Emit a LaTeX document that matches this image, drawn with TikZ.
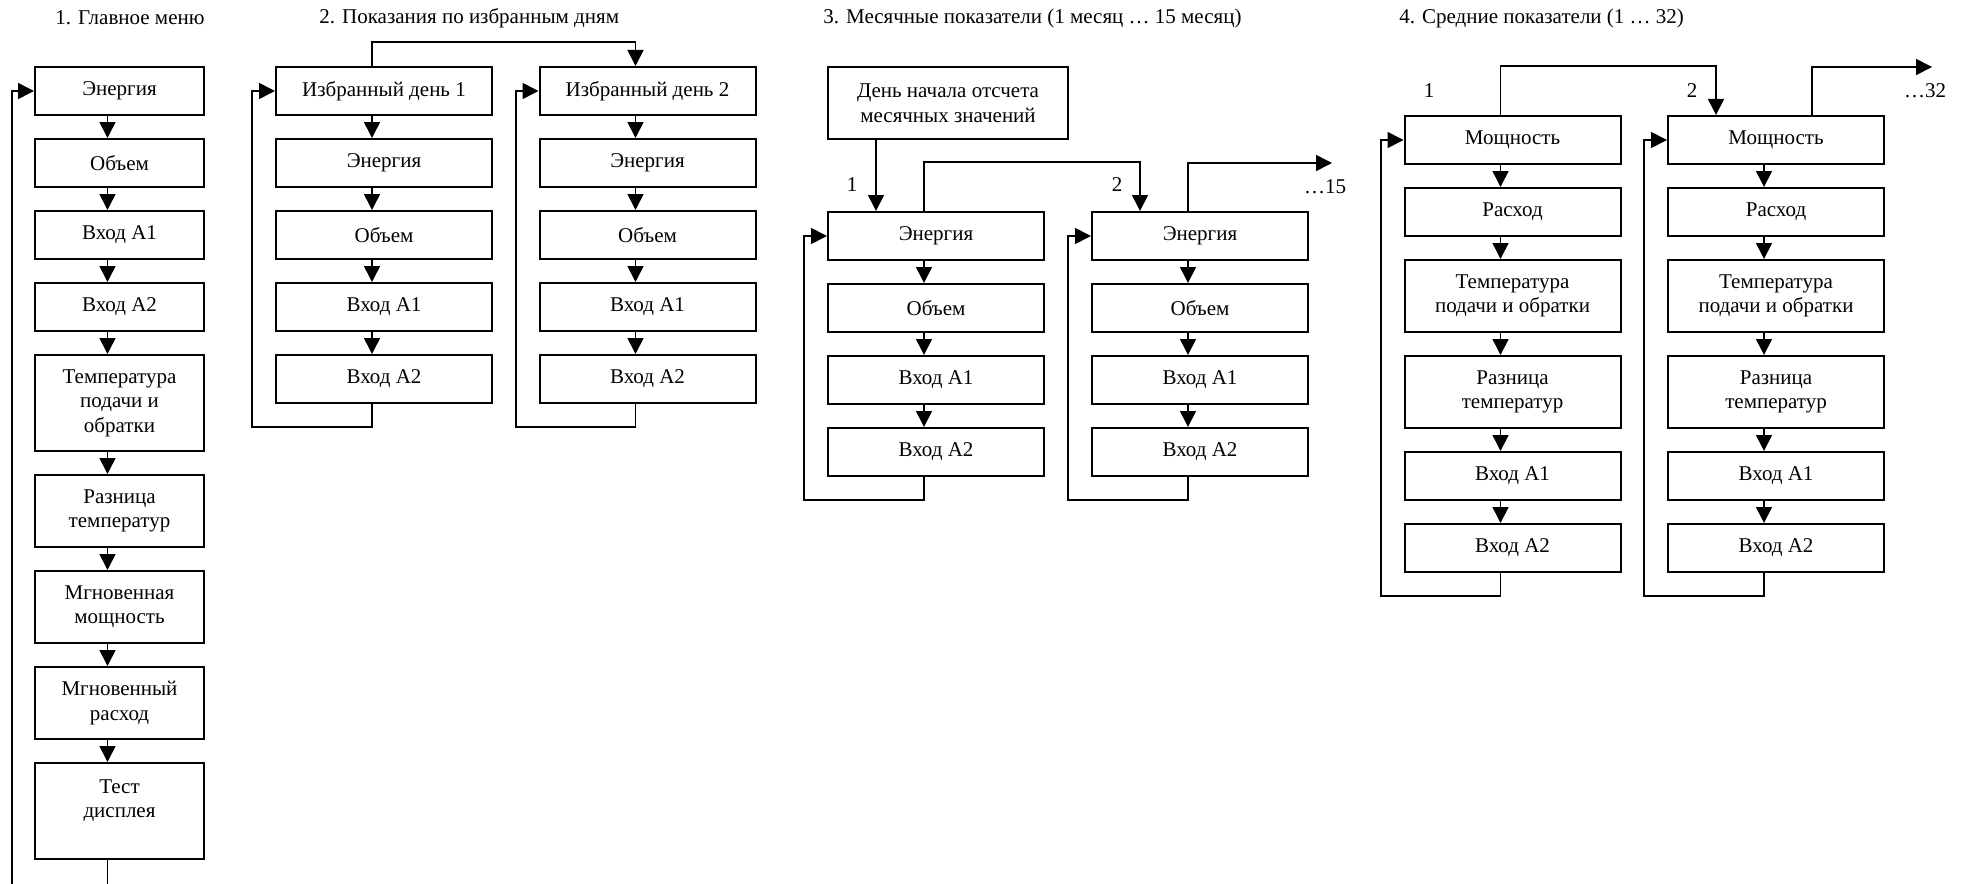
\documentclass[tikz,border=0pt]{standalone}
\usepackage{fontspec}
\setmainfont{Liberation Serif}
\usetikzlibrary{arrows.meta}
\tikzset{
    cell/.style={rectangle, draw=black, line width=1pt, align=center, font=\fontsize{10.5pt}{12.25pt}\selectfont, inner sep=2pt, minimum height=24pt},
    cellnarrow/.style={cell, minimum width=84.5pt},
    cellwide/.style={cell, minimum width=108pt},
    twoline/.style={minimum height=36pt},
    threeline/.style={minimum height=48pt},
    arr/.style={-{Triangle[length=8pt, width=8pt]}, line width=0.8pt},
    hdr/.style={anchor=west, font=\fontsize{10.5pt}{12.25pt}\selectfont, inner sep=0pt},
    numlbl/.style={font=\fontsize{10.5pt}{12.25pt}\selectfont, inner sep=0pt}
}

\begin{document}
\begin{tikzpicture}[x=0.5pt, y=-0.5pt]
\useasboundingbox (0,0) rectangle (1968,883);
\node[hdr] (h1) at (55,18) {1. Главное меню};
\node[hdr] (h2) at (319,18) {2. Показания по избранным дням};
\node[hdr] (h3) at (823,18) {3. Месячные показатели (1 месяц … 15 месяц)};
\node[hdr] (h4) at (1399,18) {4. Средние показатели (1 … 32)};

% 1. main menu
\node[cellnarrow] (m1) at (119.5,91) {Энергия};
\node[cellnarrow] (m2) at (119.5,163) {Объем};
\node[cellnarrow] (m3) at (119.5,235) {Вход A1};
\node[cellnarrow] (m4) at (119.5,307) {Вход A2};
\node[cellnarrow, threeline] (m5) at (119.5,403) {Температура\\подачи и\\обратки};
\node[cellnarrow, twoline] (m6) at (119.5,511) {Разница\\температур};
\node[cellnarrow, twoline] (m7) at (119.5,607) {Мгновенная\\мощность};
\node[cellnarrow, twoline] (m8) at (119.5,703) {Мгновенный\\расход};
\node[cellnarrow, threeline] (m9) at (119.5,811) {Тест\\дисплея\\\mbox{}};
\draw[arr] ([xshift=-6pt]m1.south)--([xshift=-6pt]m2.north); \draw[arr] ([xshift=-6pt]m2.south)--([xshift=-6pt]m3.north);
\draw[arr] ([xshift=-6pt]m3.south)--([xshift=-6pt]m4.north); \draw[arr] ([xshift=-6pt]m4.south)--([xshift=-6pt]m5.north);
\draw[arr] ([xshift=-6pt]m5.south)--([xshift=-6pt]m6.north); \draw[arr] ([xshift=-6pt]m6.south)--([xshift=-6pt]m7.north);
\draw[arr] ([xshift=-6pt]m7.south)--([xshift=-6pt]m8.north); \draw[arr] ([xshift=-6pt]m8.south)--([xshift=-6pt]m9.north);
\coordinate (r1) at (12,900);
\draw[arr] ([xshift=-6pt]m9.south) |- (r1) |- (m1.west);

% 2. selected days
\node[cellwide] (d1) at (384,91) {Избранный день 1};
\node[cellwide] (d2) at (384,163) {Энергия};
\node[cellwide] (d3) at (384,235) {Объем};
\node[cellwide] (d4) at (384,307) {Вход A1};
\node[cellwide] (d5) at (384,379) {Вход A2};
\node[cellwide] (e1) at (647.5,91) {Избранный день 2};
\node[cellwide] (e2) at (647.5,163) {Энергия};
\node[cellwide] (e3) at (647.5,235) {Объем};
\node[cellwide] (e4) at (647.5,307) {Вход A1};
\node[cellwide] (e5) at (647.5,379) {Вход A2};
\draw[arr] ([xshift=-6pt]d1.south)--([xshift=-6pt]d2.north); \draw[arr] ([xshift=-6pt]d2.south)--([xshift=-6pt]d3.north);
\draw[arr] ([xshift=-6pt]d3.south)--([xshift=-6pt]d4.north); \draw[arr] ([xshift=-6pt]d4.south)--([xshift=-6pt]d5.north);
\draw[arr] ([xshift=-6pt]e1.south)--([xshift=-6pt]e2.north); \draw[arr] ([xshift=-6pt]e2.south)--([xshift=-6pt]e3.north);
\draw[arr] ([xshift=-6pt]e3.south)--([xshift=-6pt]e4.north); \draw[arr] ([xshift=-6pt]e4.south)--([xshift=-6pt]e5.north);
\coordinate (r2a) at (252,427); \coordinate (r2b) at (516,427);
\draw[arr] ([xshift=-6pt]d5.south) |- (r2a) |- (d1.west);
\draw[arr] ([xshift=-6pt]e5.south) |- (r2b) |- (e1.west);
\draw[arr] ([xshift=-6pt]d1.north) -- ++(0,-24) -| ([xshift=-6pt]e1.north);

% 3. monthly values
\node[cell, twoline, minimum width=120pt] (s0) at (948,103) {День начала отсчета\\месячных значений};
\node[cellwide] (f1) at (936,236) {Энергия};
\node[cellwide] (f2) at (936,308) {Объем};
\node[cellwide] (f3) at (936,380) {Вход A1};
\node[cellwide] (f4) at (936,452) {Вход A2};
\node[cellwide] (g1) at (1200,236) {Энергия};
\node[cellwide] (g2) at (1200,308) {Объем};
\node[cellwide] (g3) at (1200,380) {Вход A1};
\node[cellwide] (g4) at (1200,452) {Вход A2};
\draw[arr] ([xshift=-36pt]s0.south)--([xshift=-30pt]f1.north);
\draw[arr] ([xshift=-6pt]f1.south)--([xshift=-6pt]f2.north); \draw[arr] ([xshift=-6pt]f2.south)--([xshift=-6pt]f3.north);
\draw[arr] ([xshift=-6pt]f3.south)--([xshift=-6pt]f4.north);
\draw[arr] ([xshift=-6pt]g1.south)--([xshift=-6pt]g2.north); \draw[arr] ([xshift=-6pt]g2.south)--([xshift=-6pt]g3.north);
\draw[arr] ([xshift=-6pt]g3.south)--([xshift=-6pt]g4.north);
\coordinate (r3a) at (804,500); \coordinate (r3b) at (1068,500);
\draw[arr] ([xshift=-6pt]f4.south) |- (r3a) |- (f1.west);
\draw[arr] ([xshift=-6pt]g4.south) |- (r3b) |- (g1.west);
\draw[arr] ([xshift=-6pt]f1.north) -- ++(0,-49) -| ([xshift=-30pt]g1.north);
\coordinate (c15) at (1332,163);
\draw[arr] ([xshift=-6pt]g1.north) |- (c15);
\node[numlbl] (n31) at (852,185) {1};
\node[numlbl] (n32) at (1117,185) {2};
\node[numlbl] (n315) at (1325,187) {…15};

% 4. average values
\node[cellwide] (a1) at (1512.5,140) {Мощность};
\node[cellwide] (a2) at (1512.5,212) {Расход};
\node[cellwide, twoline] (a3) at (1512.5,296) {Температура\\подачи и обратки};
\node[cellwide, twoline] (a4) at (1512.5,392) {Разница\\температур};
\node[cellwide] (a5) at (1512.5,476) {Вход A1};
\node[cellwide] (a6) at (1512.5,548) {Вход A2};
\node[cellwide] (b1) at (1776,140) {Мощность};
\node[cellwide] (b2) at (1776,212) {Расход};
\node[cellwide, twoline] (b3) at (1776,296) {Температура\\подачи и обратки};
\node[cellwide, twoline] (b4) at (1776,392) {Разница\\температур};
\node[cellwide] (b5) at (1776,476) {Вход A1};
\node[cellwide] (b6) at (1776,548) {Вход A2};
\draw[arr] ([xshift=-6pt]a1.south)--([xshift=-6pt]a2.north); \draw[arr] ([xshift=-6pt]a2.south)--([xshift=-6pt]a3.north);
\draw[arr] ([xshift=-6pt]a3.south)--([xshift=-6pt]a4.north); \draw[arr] ([xshift=-6pt]a4.south)--([xshift=-6pt]a5.north);
\draw[arr] ([xshift=-6pt]a5.south)--([xshift=-6pt]a6.north);
\draw[arr] ([xshift=-6pt]b1.south)--([xshift=-6pt]b2.north); \draw[arr] ([xshift=-6pt]b2.south)--([xshift=-6pt]b3.north);
\draw[arr] ([xshift=-6pt]b3.south)--([xshift=-6pt]b4.north); \draw[arr] ([xshift=-6pt]b4.south)--([xshift=-6pt]b5.north);
\draw[arr] ([xshift=-6pt]b5.south)--([xshift=-6pt]b6.north);
\coordinate (r4a) at (1381,596); \coordinate (r4b) at (1644,596);
\draw[arr] ([xshift=-6pt]a6.south) |- (r4a) |- (a1.west);
\draw[arr] ([xshift=-6pt]b6.south) |- (r4b) |- (b1.west);
\draw[arr] ([xshift=-6pt]a1.north) -- ++(0,-49) -| ([xshift=-30pt]b1.north);
\coordinate (c32) at (1932,67);
\draw[arr] ([xshift=18pt]b1.north) |- (c32);
\node[numlbl] (n41) at (1429,91) {1};
\node[numlbl] (n42) at (1692,91) {2};
\node[numlbl] (n432) at (1925,91) {…32};
\end{tikzpicture}
\end{document}
